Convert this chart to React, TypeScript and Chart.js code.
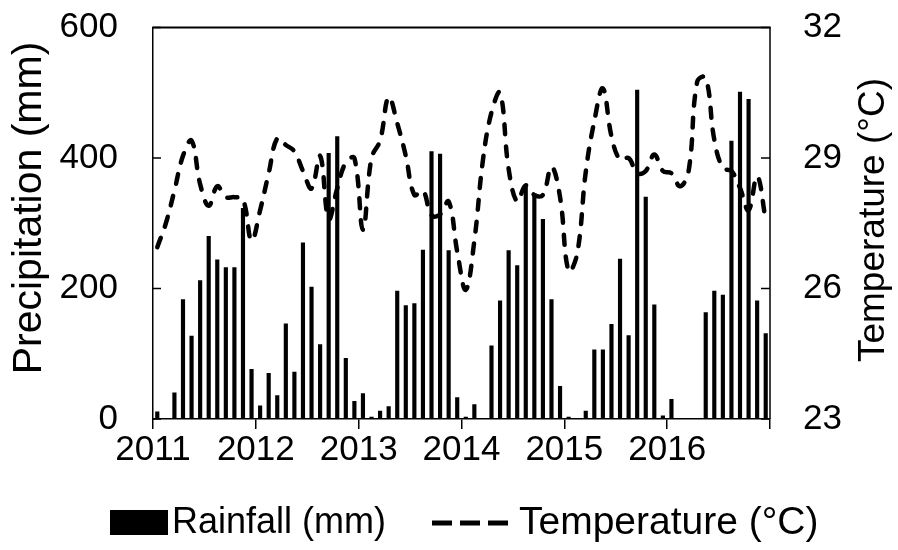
import React, { useEffect, useRef } from 'react';
import { Chart, registerables } from 'chart.js';

Chart.register(...registerables);

// ---- data (monthly, Jan 2011 – Dec 2016) ----
const years = ['2011', '2012', '2013', '2014', '2015', '2016'];

const rainfall = [
  11, 0, 40, 183, 127, 212, 280, 244, 232, 232, 323, 76,
  20, 70, 36, 146, 72, 270, 202, 114, 407, 433, 93, 27,
  39, 3, 12, 19, 196, 174, 177, 259, 410, 406, 258, 33,
  3, 22, 0, 112, 181, 258, 235, 355, 342, 306, 183, 50,
  3, 0, 12, 106, 106, 145, 245, 128, 504, 340, 175, 5,
  30, 0, 0, 0, 163, 196, 190, 426, 501, 490, 181, 131,
];

const temperature = [
  26.95, 27.5, 28.25, 29.05, 29.4, 28.4, 27.9, 28.35, 28.1, 28.1, 28.05, 27.1,
  27.8, 28.65, 29.45, 29.3, 29.15, 28.7, 28.3, 29.05, 27.6, 28.3, 28.9, 29.0,
  27.35, 29.0, 29.4, 30.4, 29.8, 29.05, 28.15, 28.25, 27.68, 27.7, 28.0, 26.85,
  25.97, 27.1, 28.95, 30.05, 30.5, 28.75, 28.0, 28.37, 28.15, 28.15, 28.8, 28.1,
  26.4, 26.8, 28.68, 29.85, 30.6, 29.5, 28.96, 29.0, 28.65, 28.7, 29.08, 28.7,
  28.65, 28.35, 28.7, 30.75, 30.85, 29.42, 28.77, 28.7, 28.31, 27.8, 28.58, 27.58,
];

const precipTicks = [0, 200, 400, 600];
const tempTicks = [23, 26, 29, 32];

const leftTitle = 'Precipitation (mm)';
const rightTitle = 'Temperature (°C)';
const rainLabel = 'Rainfall (mm)';
const tempLabel = 'Temperature (°C)';

const FONT = '"Liberation Sans", Arial, Helvetica, sans-serif';

export default function App() {
  const canvasRef = useRef<HTMLCanvasElement | null>(null);

  useEffect(() => {
    const canvas = canvasRef.current;
    if (!canvas) return;

    const framePlugin = {
      id: 'frame',
      afterDatasetsDraw(chart: any) {
        const { ctx, chartArea } = chart;
        const { left, right, top, bottom } = chartArea;
        ctx.save();
        ctx.strokeStyle = '#000';
        ctx.lineWidth = 2;
        ctx.beginPath();
        ctx.moveTo(left - 0.75, top);
        ctx.lineTo(right + 0.75, top);
        ctx.stroke();
        ctx.lineWidth = 1.5;
        ctx.beginPath();
        ctx.moveTo(right, top);
        ctx.lineTo(right, bottom);
        ctx.stroke();
        // inward tick marks on both value axes
        const ys = chart.scales.y;
        const yr = chart.scales.y1;
        ctx.beginPath();
        precipTicks.forEach((v) => {
          const py = ys.getPixelForValue(v);
          ctx.moveTo(left, py);
          ctx.lineTo(left + 8, py);
        });
        tempTicks.forEach((v) => {
          const py = yr.getPixelForValue(v);
          ctx.moveTo(right, py);
          ctx.lineTo(right - 9, py);
        });
        ctx.stroke();
        ctx.restore();
      },
    };

    const textPlugin = {
      id: 'texts',
      afterDraw(chart: any) {
        const { ctx } = chart;
        ctx.save();
        ctx.fillStyle = '#000';
        ctx.textAlign = 'center';
        ctx.textBaseline = 'middle';
        // left axis title
        ctx.font = `41px ${FONT}`;
        ctx.save();
        ctx.translate(30, 208);
        ctx.rotate(-Math.PI / 2);
        ctx.fillText(leftTitle, 0, 0);
        ctx.restore();
        // right axis title
        ctx.font = `37px ${FONT}`;
        ctx.save();
        ctx.translate(874, 220);
        ctx.rotate(-Math.PI / 2);
        ctx.fillText(rightTitle, 0, 0);
        ctx.restore();

        // legend
        const ly = 523;
        ctx.fillRect(110, 510, 58, 25);
        ctx.textAlign = 'left';
        ctx.font = `36px ${FONT}`;
        ctx.fillText(rainLabel, 172, ly);
        ctx.strokeStyle = '#000';
        ctx.lineWidth = 5;
        ctx.setLineDash([20, 8]);
        ctx.beginPath();
        ctx.moveTo(432, ly);
        ctx.lineTo(512, ly);
        ctx.stroke();
        ctx.setLineDash([]);
        ctx.font = `39px ${FONT}`;
        ctx.fillText(tempLabel, 519, ly);
        ctx.restore();
      },
    };

    const tickFont = { family: FONT, size: 35 };
    const noVerticalPadding = (scale: any) => {
      scale.paddingTop = 0;
      scale.paddingBottom = 0;
    };

    const chart = new Chart(canvas, {
      data: {
        datasets: [
          {
            type: 'line',
            label: tempLabel,
            data: temperature.map((v, i) => ({ x: i + 0.5, y: v })),
            xAxisID: 'x',
            yAxisID: 'y1',
            borderColor: '#000',
            backgroundColor: '#000',
            borderWidth: 4.5,
            borderDash: [10, 12],
            borderCapStyle: 'round',
            tension: 0.4,
            pointRadius: 0,
            fill: false,
            order: 0,
          },
          {
            type: 'bar',
            label: rainLabel,
            data: rainfall.map((v, i) => ({ x: i + 0.5, y: v })),
            xAxisID: 'x',
            yAxisID: 'y',
            backgroundColor: '#000',
            borderWidth: 0,
            barThickness: 3.5,
            order: 1,
          },
        ],
      } as any,
      options: {
        responsive: false,
        animation: false,
        layout: { padding: { top: 27.5, left: 0, right: 0, bottom: 0 } },
        plugins: {
          legend: { display: false },
          tooltip: { enabled: false },
          title: { display: false },
        },
        scales: {
          x: {
            type: 'linear',
            min: 0,
            max: 72,
            offset: false,
            afterFit(scale: any) {
              scale.height = 131;
            },
            ticks: {
              stepSize: 12,
              autoSkip: false,
              maxRotation: 0,
              color: '#000',
              font: tickFont,
              padding: 0,
              callback: (value: any) => {
                const idx = Math.round(Number(value) / 12);
                return idx < years.length ? years[idx] : '';
              },
            },
            grid: {
              display: true,
              offset: false,
              drawOnChartArea: false,
              drawTicks: true,
              tickLength: 10,
              color: '#000',
              lineWidth: 1.5,
            },
            border: { display: true, color: '#000', width: 1.5 },
          },
          y: {
            type: 'linear',
            position: 'left',
            min: 0,
            max: 600,
            afterFit(scale: any) {
              scale.width = 153;
              noVerticalPadding(scale);
            },
            afterBuildTicks(scale: any) {
              scale.ticks = precipTicks.map((v) => ({ value: v }));
            },
            ticks: { color: '#000', font: tickFont, padding: 35 },
            grid: { display: false, drawTicks: false },
            border: { display: true, color: '#000', width: 1.5 },
          },
          y1: {
            type: 'linear',
            position: 'right',
            min: 23,
            max: 32,
            afterFit(scale: any) {
              scale.width = 128;
              noVerticalPadding(scale);
            },
            afterBuildTicks(scale: any) {
              scale.ticks = tempTicks.map((v) => ({ value: v }));
            },
            ticks: { color: '#000', font: tickFont, padding: 33 },
            grid: { display: false, drawTicks: false },
            border: { display: false },
          },
        },
      } as any,
      plugins: [framePlugin, textPlugin],
    });

    return () => {
      chart.destroy();
    };
  }, []);

  return (
    <div
      style={{
        position: 'absolute',
        left: 0,
        top: 0,
        width: 898,
        height: 550,
        background: '#fff',
      }}
    >
      <canvas ref={canvasRef} width={898} height={550} />
    </div>
  );
}
